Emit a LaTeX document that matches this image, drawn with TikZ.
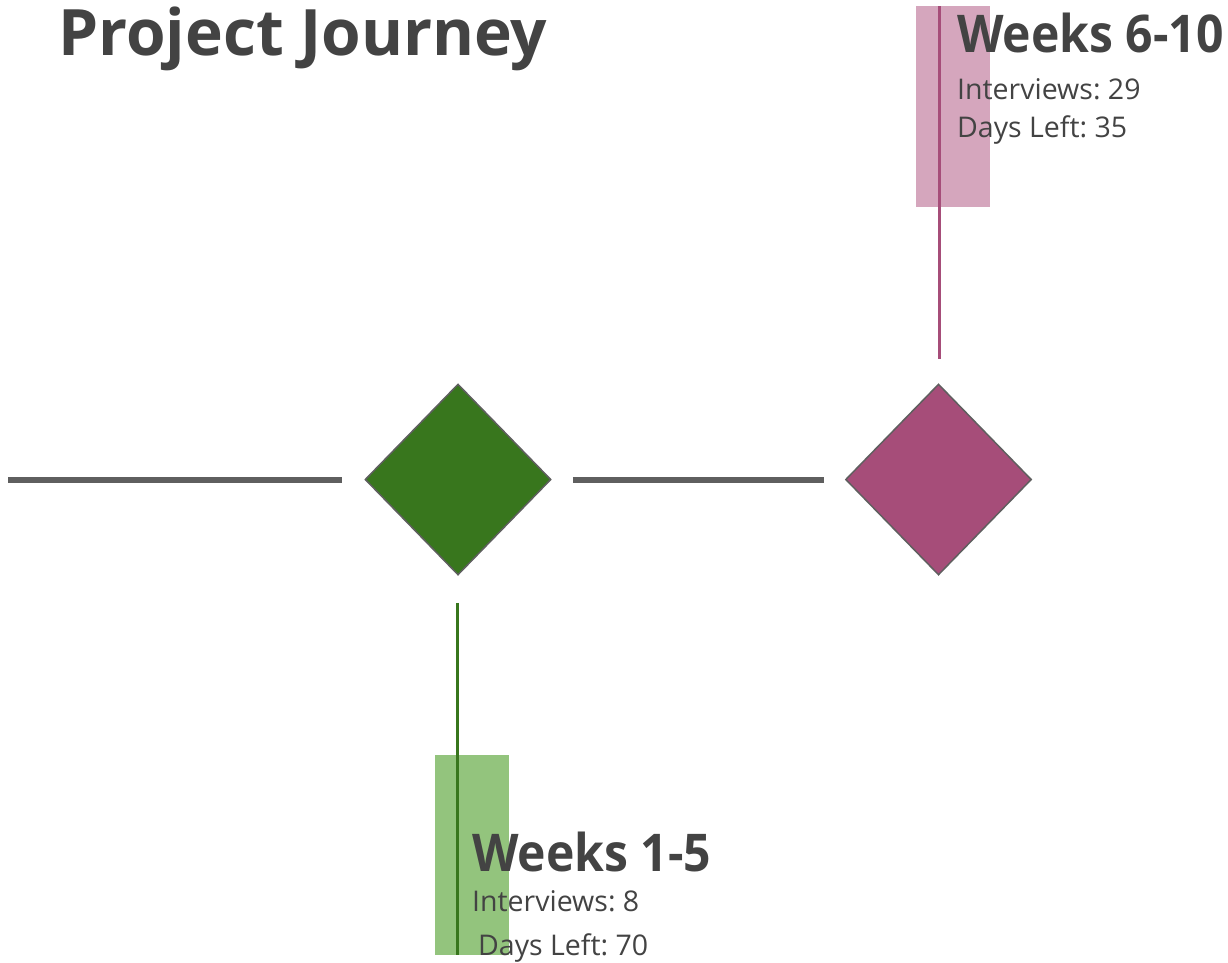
\documentclass[tikz,border=0pt]{standalone}
\usepackage{fontspec}
\setmainfont{Open Sans}
\newfontfamily\headingfont[FakeStretch=0.925]{Open Sans}
\usetikzlibrary{shapes.geometric}
\frenchspacing
\definecolor{ink}{HTML}{434343}
\definecolor{rail}{HTML}{5F5F5F}
\definecolor{leafdark}{HTML}{38761D}
\definecolor{leaflight}{HTML}{93C47D}
\definecolor{plumdark}{HTML}{A64D79}
\definecolor{plumlight}{HTML}{D5A6BD}
\tikzset{
  milestone/.style={diamond, draw=rail, line width=1.5pt, inner sep=0pt,
    minimum width=186pt, minimum height=191pt},
  railline/.style={draw=rail, line width=5.5pt},
  stem/.style={line width=3pt},
  heading/.style={anchor=base west, inner sep=0pt, text=ink,
    font=\headingfont\fontsize{52}{60}\selectfont\bfseries},
  detail/.style={anchor=base west, inner sep=0pt, text=ink,
    font=\fontsize{28.5}{32}\selectfont},
}
\begin{document}
\begin{tikzpicture}[x=1pt, y=-1pt]
  \useasboundingbox (0,0) rectangle (1228,962);

  % title
  \node[anchor=base west, inner sep=0pt, text=ink,
    font=\fontsize{64}{72}\selectfont\bfseries] (title) at (58,55) {Project Journey};

  % highlight bands behind the labels
  \fill[plumlight] (916,6) rectangle (990,207);
  \fill[leaflight] (435,755) rectangle (509,955);

  % milestones
  \node[milestone, fill=leafdark] (m1) at (458,479.5) {};
  \node[milestone, fill=plumdark] (m2) at (938.5,479.5) {};

  % timeline rail
  \coordinate (start) at (8,480);
  \draw[railline, shorten >=22pt] (start) -- (m1.west |- start);
  \draw[railline, shorten <=21pt, shorten >=21pt] (m1.east |- start) -- (m2.west |- start);

  % stems to the labels
  \coordinate (stem1) at (457,955);
  \coordinate (stem2) at (939,6);
  \draw[stem, draw=leafdark, shorten <=27pt] (m1.south -| stem1) -- (stem1);
  \draw[stem, draw=plumdark, shorten >=24pt] (stem2) -- (m2.north -| stem2);

  % labels
  \node[heading] (h2) at (957,52) {Weeks 6-10};
  \node[detail] (i2) at (957,99) {Interviews: 29};
  \node[detail] (d2) at (957,137) {Days Left: 35};

  \node[heading] (h1) at (472,871) {Weeks 1-5};
  \node[detail] (i1) at (472,911) {Interviews: 8};
  \node[detail] (d1) at (478,955) {Days Left: 70};
\end{tikzpicture}
\end{document}
